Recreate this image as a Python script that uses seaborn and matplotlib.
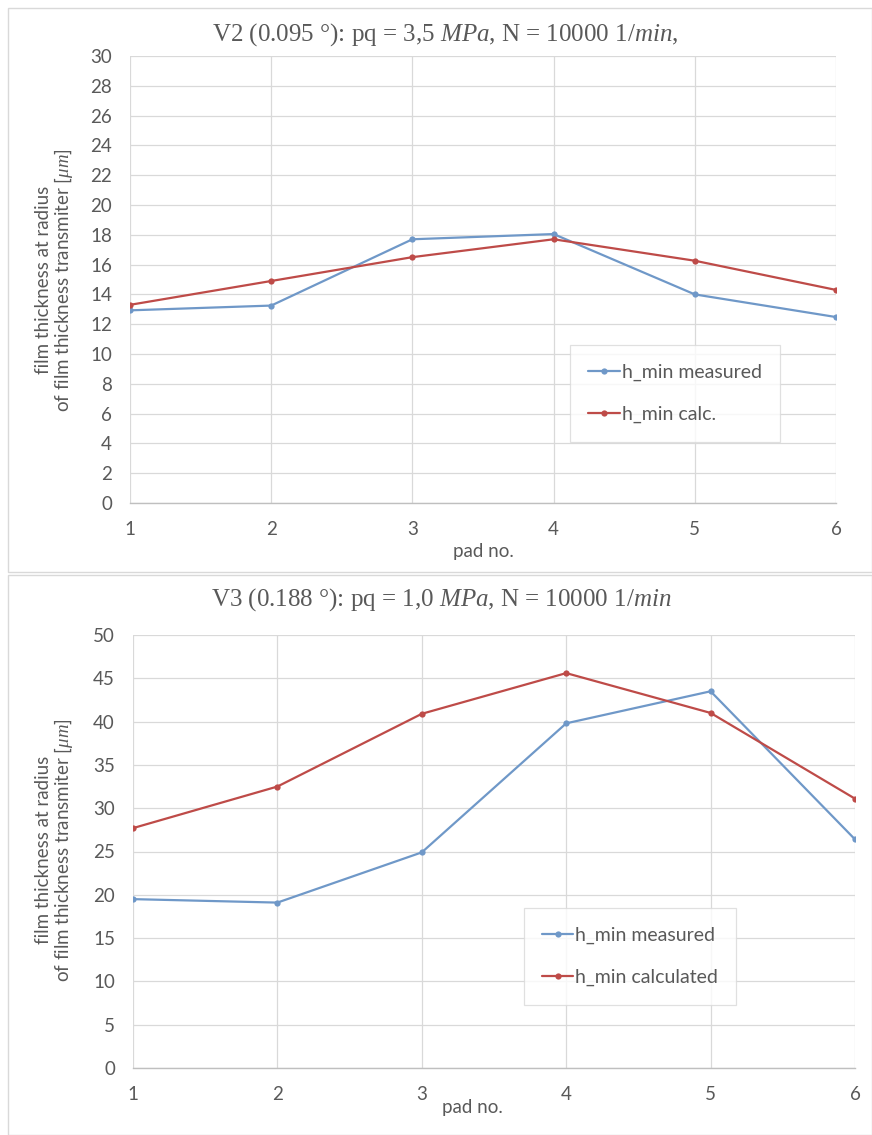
import matplotlib
matplotlib.use("Agg")
import matplotlib.pyplot as plt
import seaborn as sns
import pandas as pd
from matplotlib.patches import Rectangle

sns.set_theme(style="white")
plt.rcParams['font.family'] = ['Lato', 'DejaVu Sans']
plt.rcParams['mathtext.fontset'] = 'custom'
plt.rcParams['mathtext.rm'] = 'Liberation Serif'
plt.rcParams['mathtext.it'] = 'Liberation Serif:italic'

pads = [1, 2, 3, 4, 5, 6]
v2_measured = [12.93, 13.25, 17.7, 18.05, 14.0, 12.48]
v2_calc = [13.3, 14.9, 16.5, 17.7, 16.26, 14.3]
v3_measured = [19.5, 19.1, 24.9, 39.8, 43.5, 26.4]
v3_calc = [27.7, 32.5, 40.9, 45.6, 41.0, 31.1]

title_top = r"V2 (0.095 °): pq = 3,5 $\mathit{MPa}$, N = 10000 $\mathit{1/min}$,"
title_bot = r"V3 (0.188 °): pq = 1,0 $\mathit{MPa}$, N = 10000 $\mathit{1/min}$"
ylabel = "film thickness at radius\nof film thickness transmiter [$\\mathit{\\mu m}$]"
xlabel = "pad no."
labels_top = ["h_min measured", "h_min calc."]
labels_bot = ["h_min measured", "h_min calculated"]

BLUE = "#6F98C8"
RED = "#BE4B48"
TXT = "#595959"
GRID = "#D9D9D9"

W, H = 872, 1135
fig = plt.figure(figsize=(W / 100, H / 100), dpi=100)

# chart area borders
fig.patches.append(Rectangle((8 / W, (H - 572) / H), (W - 8) / W, 564 / H,
                             transform=fig.transFigure, fill=False,
                             edgecolor="#D9D9D9", lw=1))
fig.patches.append(Rectangle((8 / W, 0), (W - 8) / W, (H - 575) / H,
                             transform=fig.transFigure, fill=False,
                             edgecolor="#D9D9D9", lw=1))


def px_axes(l, t, r, b):
    return fig.add_axes([l / W, (H - b) / H, (r - l) / W, (b - t) / H])


def draw(ax, meas, calc, labels, ymax, ystep, legend_box):
    df = pd.DataFrame({
        "pad": pads * 2,
        "h": meas + calc,
        "series": [labels[0]] * 6 + [labels[1]] * 6,
    })
    sns.lineplot(data=df, x="pad", y="h", hue="series",
                 palette=[BLUE, RED], marker="o", markersize=4.5,
                 markeredgewidth=0, linewidth=1.6, ax=ax, legend=True)
    ax.set_xlim(1, 6)
    ax.set_ylim(0, ymax)
    ax.set_xticks(pads)
    ax.set_yticks(list(range(0, ymax + 1, ystep)))
    ax.grid(True, color=GRID, lw=0.9)
    ax.set_axisbelow(True)
    for s in ["top", "right", "left"]:
        ax.spines[s].set_visible(False)
    ax.spines["bottom"].set_color("#BFBFBF")
    ax.spines["bottom"].set_linewidth(1)
    ax.tick_params(axis="both", length=0, labelsize=13.5, labelcolor=TXT)
    ax.tick_params(axis="x", pad=13)
    ax.tick_params(axis="y", pad=13)
    ax.set_xlabel("")
    ax.set_ylabel("")
    h, l = ax.get_legend_handles_labels()
    l0, t0, r0, b0 = legend_box
    leg = ax.legend(h, l, loc="center", fontsize=14,
                    bbox_to_anchor=((l0 + r0) / 2 / W, (H - (t0 + b0) / 2) / H),
                    bbox_transform=fig.transFigure, frameon=True,
                    fancybox=False, edgecolor="#D9D9D9", handlelength=1.6,
                    handletextpad=0.1, labelspacing=1.3, borderpad=0.95,
                    borderaxespad=0)
    for t in leg.get_texts():
        t.set_color(TXT)
    leg.get_frame().set_linewidth(0.9)


ax1 = px_axes(130, 56, 836, 503)
draw(ax1, v2_measured, v2_calc, labels_top, 30, 2, (563, 344, 787, 443))
ax2 = px_axes(133, 635, 855, 1068)
draw(ax2, v3_measured, v3_calc, labels_bot, 50, 5, (522, 907, 738, 1006))

SERIF = ['Liberation Serif', 'DejaVu Serif']
fig.text(445 / W, (H - 35) / H, title_top, ha="center", va="center",
         fontsize=18, color=TXT, family=SERIF)
fig.text(441 / W, (H - 600) / H, title_bot, ha="center", va="center",
         fontsize=18, color=TXT, family=SERIF)
fig.text(55 / W, (H - 280) / H, ylabel, ha="center", va="center",
         rotation=90, fontsize=13.5, color=TXT, linespacing=1.05)
fig.text(55 / W, (H - 850) / H, ylabel, ha="center", va="center",
         rotation=90, fontsize=13.5, color=TXT, linespacing=1.05)
fig.text(483 / W, (H - 551) / H, xlabel, ha="center", va="center",
         fontsize=13.5, color=TXT)
fig.text(472 / W, (H - 1108) / H, xlabel, ha="center", va="center",
         fontsize=13.5, color=TXT)

fig.savefig("out.png", dpi=100, facecolor="white")
